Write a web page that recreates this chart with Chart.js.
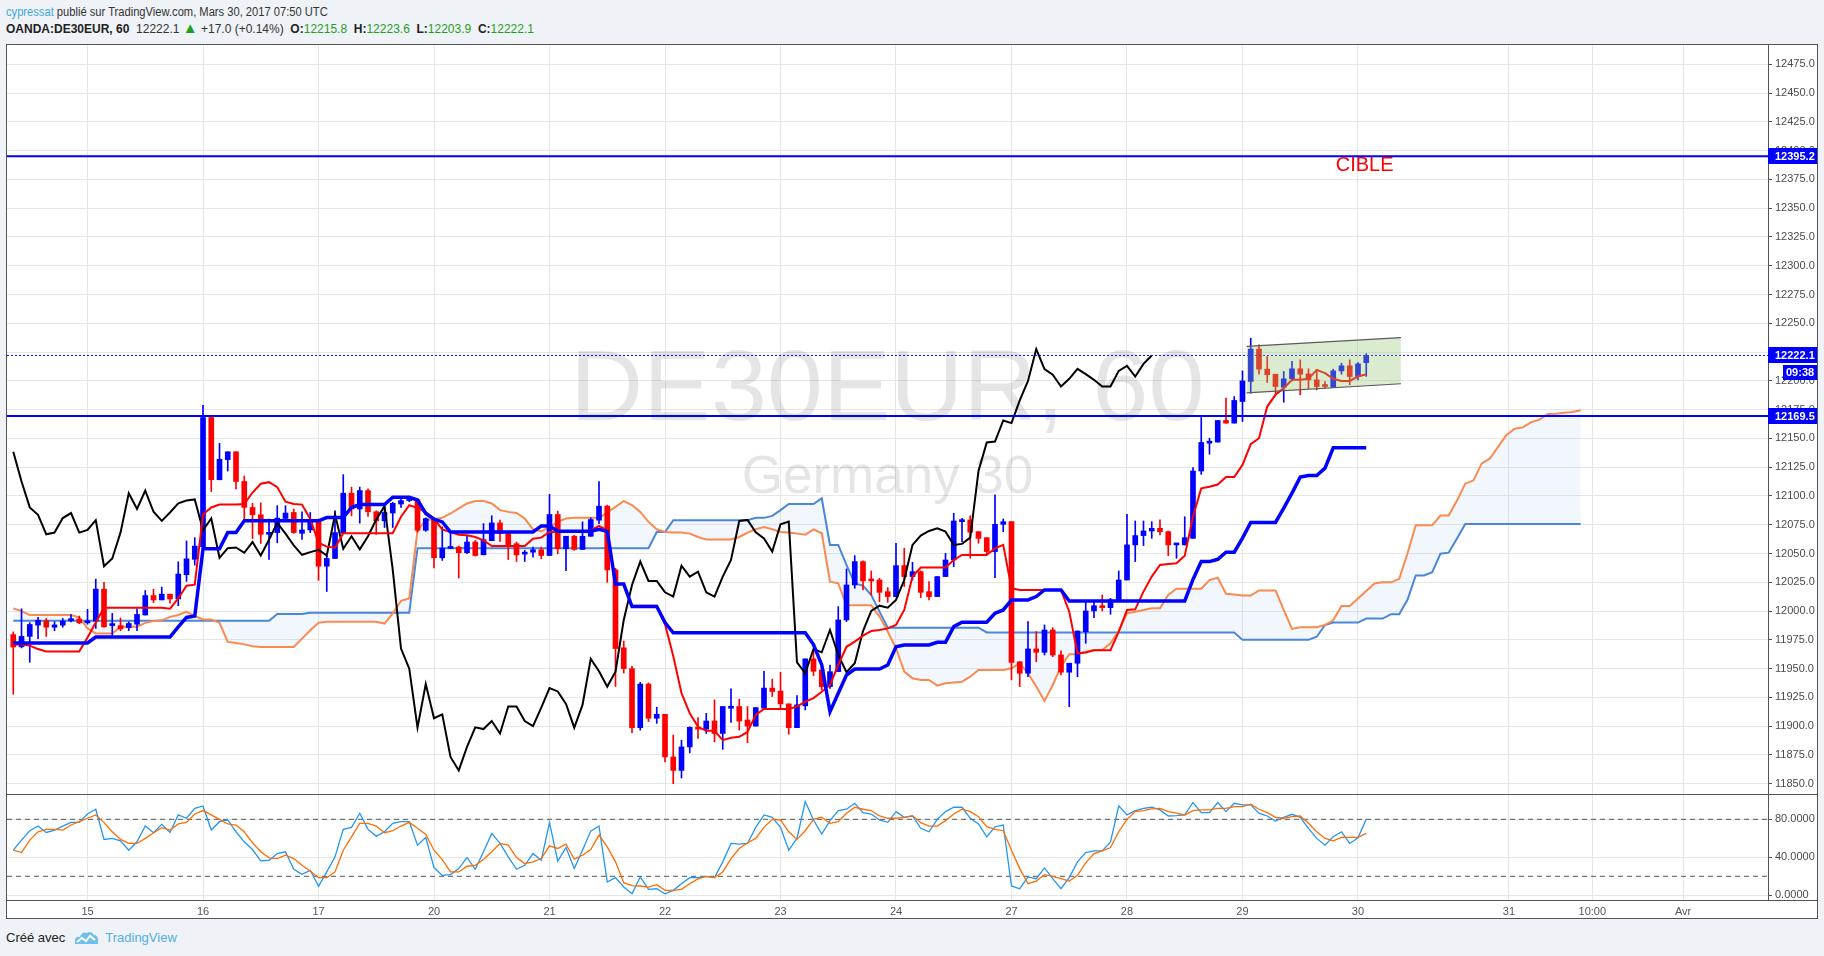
<!DOCTYPE html>
<html>
<head>
<meta charset="utf-8">
<title>DE30EUR, 60</title>
<script src="https://cdn.jsdelivr.net/npm/chart.js@4.4.1/dist/chart.umd.min.js"></script>
<style>
  html, body { margin: 0; padding: 0; }
  body { width: 1824px; height: 956px; background: #eff2f6; position: relative; overflow: hidden;
         font-family: "Liberation Sans", Arial, sans-serif; color: #333; }
  #line1 { position: absolute; left: 6px; top: 5px; font-size: 12px; white-space: nowrap;
           transform: scaleX(0.93); transform-origin: left top; }
  #line1 .user { color: #3ea9dd; }
  #line2 { position: absolute; left: 6px; top: 22px; font-size: 12px; white-space: nowrap; }
  #line2 b { color: #222; }
  #line2 .g { color: #1f9f1f; }
  #line2 .tri { color: #1f9f1f; font-size: 15px; line-height: 12px; }
  #frame { position: absolute; left: 6px; top: 44px; width: 1810px; height: 873px; border: 1px solid #555; background: #fff; }
  #frame canvas { position: absolute; left: 0; }
  .hsep { position: absolute; left: 0; width: 1810px; height: 1px; background: #555; }
  #foot { position: absolute; left: 6px; top: 929px; font-size: 13px; color: #222; display: flex; align-items: center; }
  #foot svg { margin-left: 9px; }
  #foot .tv { color: #4fb0e3; margin-left: 6px; }
</style>
</head>
<body>
<div id="line1"><span class="user">cypressat</span> publié sur TradingView.com, Mars 30, 2017 07:50 UTC</div>
<div id="line2"><b>OANDA:DE30EUR, 60</b>&nbsp; 12222.1 <span class="tri">▲</span> +17.0 (+0.14%)&nbsp; <b>O:</b><span class="g">12215.8</span>&nbsp; <b>H:</b><span class="g">12223.6</span>&nbsp; <b>L:</b><span class="g">12203.9</span>&nbsp; <b>C:</b><span class="g">12222.1</span></div>
<div id="frame">
  <canvas id="priceChart" width="1810" height="749" style="top:0"></canvas>
  <div class="hsep" style="top:749px"></div>
  <canvas id="stochChart" width="1810" height="123" style="top:750px"></canvas>
  <div class="hsep" style="top:855px"></div>
</div>
<div id="foot">Créé avec
  <svg width="25" height="17" viewBox="0 0 25 17"><path d="M1 15 L1 11 Q2 7 6 8 Q8 2 13 4 Q17 1 20 6 Q24 6 24 11 L24 15 Z" fill="#6cc0ea"/><path d="M3 13 L8 9 L12 12 L16 7 L21 11" stroke="#fff" stroke-width="2" fill="none"/></svg>
  <span class="tv">TradingView</span></div>

<script>
// bougies 60 min, index 0 = premiere bougie visible (14 bougies par jour)
const opens = [11979.6,11969,11978,11987.8,11991.6,11986,11987.8,11991.6,11993,11989.8,
  11991.3,12019.1,11987.4,11987.4,11985.7,11988.6,11996.6,12013.5,12009.7,12014.7,
  12010.6,12031.6,12045,12055.9,12168.2,12114.1,12131.6,12138.4,12112.6,12090,
  12083.7,12066.7,12068.2,12080.5,12085.7,12067.6,12070.5,12079.3,12039,12045.7,
  12067.6,12102.4,12088.7,12104.7,12086.3,12078.4,12085.2,12093,12096,12096.8,
  12070.2,12079.8,12046.3,12054.4,12055.6,12050.7,12060,12048.9,12061.2,12076.6,
  12067.3,12058.5,12049.5,12051.2,12053.3,12048.3,12083.9,12054.2,12065,12053.6,
  12065,12079,12091.2,12035.8,11968.1,11950,11898.7,11936.6,11906.9,11910.3,
  11873.3,11861.6,11882,11899,11897.5,11904.5,11893.7,11915.6,11917.1,11905.4,
  11900.1,11915.6,11933.1,11930.5,11919.4,11898.7,11917.7,11958.5,11948.9,11934.4,
  11947.4,11992.3,12022.7,12043,12027,12027,12016.9,12012.6,12039.5,12030,
  12034.3,12016.9,12012.6,12030,12044.4,12077.7,12079.2,12069,12063.8,12051.7,
  12075.4,12077.7,11956,11946,11967.1,11964.2,11983.6,11961.9,11946.9,11954.7,
  11982.1,12000.1,12004.7,12003,12009.7,12027,12057.5,12065.6,12069.6,12071.9,
  12069,12057.5,12057.5,12063.2,12121.7,12145.9,12146.8,12165.6,12163.3,12182.1,
  12199.5,12227.6,12210.2,12205.8,12194.5,12201.8,12210.5,12206.1,12200.9,12196,
  12194.5,12208.7,12213.1,12203.8,12215.8];
const highs = [11982,12002,11990,11994.5,11993.6,11990.7,11993.6,11997,11995.7,12001.5,
  12027.8,12025,11998,11994,11990.7,12002,12017.9,12019,12020.8,12014.7,
  12042.8,12060.9,12063.8,12178.7,12170,12145.7,12138.4,12138.4,12117.3,12093.6,
  12094,12079.9,12091.6,12091.6,12088.7,12086.3,12085.7,12079.9,12047.7,12087,
  12118.5,12107.7,12107.7,12106.2,12087.2,12091,12094.5,12097.4,12098,12097,
  12081,12079.8,12073.1,12067.3,12056.5,12065.8,12061.4,12076,12082.8,12079,
  12068.7,12060,12052.7,12055.6,12055.6,12101.4,12086.8,12065,12065.8,12077.5,
  12081,12112.5,12092.1,12037.2,11974,11952,11938.1,11937.5,11916.5,11910.3,
  11892.3,11887.9,11899.5,11907.4,11911.2,11922.9,11917.1,11932.4,11923.5,11917.1,
  11916.2,11947.7,11940.9,11946.8,11919.4,11926.7,11958.5,11966.7,11953.2,11953.2,
  12003.9,12036.6,12048.2,12043.6,12034.9,12028.5,12020.4,12058.9,12054.6,12042.4,
  12034.9,12025.6,12030,12050.2,12085,12080.6,12082.9,12069,12063.8,12100.9,
  12080,12077.7,11956,11990.9,11982.2,11988,11985.6,11965.4,11954.7,11982.7,
  12008.2,12007.6,12014,12011.1,12034.9,12084.1,12078.3,12078.3,12077.7,12079.2,
  12069.6,12058.9,12082,12124.6,12168.2,12150.2,12165.6,12185,12186.4,12208.7,
  12237.1,12231.3,12221.2,12205.8,12208.2,12216.9,12218.3,12210.5,12209.6,12199.5,
  12210.2,12215.4,12218.3,12216,12223.6];
const lows = [11927.8,11968,11955.6,11976,11978,11983,11986,11990.7,11989,11988.6,
  11985,11986,11979,11983,11983,11983,11996.6,12007.4,12009.7,12006.8,
  12004.7,12025.8,12040,12055.9,12103.9,12114.1,12121.7,12106.2,12077,12063,
  12058.8,12044.8,12059.4,12079.9,12067.6,12062.3,12068.2,12026.7,12017,12045.7,
  12067.6,12082.8,12076.4,12082.2,12066.7,12072.6,12072.6,12090,12095,12068.6,
  12069.3,12037.5,12044,12054.2,12028.8,12049.8,12047.8,12048.9,12061.2,12060.6,
  12044.8,12043.1,12043.1,12046.9,12045.4,12048.3,12049.8,12035.2,12052.7,12053.6,
  12065,12076,12025,11934.6,11946.2,11894.3,11896.6,11904,11902.5,11868.9,
  11850,11855,11876.8,11889.4,11893.7,11886.4,11879.9,11903.3,11896.6,11885.6,
  11900.1,11915,11925.8,11915.6,11893.1,11898.7,11914.1,11944,11931.5,11932.9,
  11947.4,11990.9,12019.8,12018.4,12014,12008.2,12007.6,12012.6,12021.3,12027,
  12011.7,12009.7,12012.6,12030,12038.6,12060.4,12045.9,12058.9,12049.4,12029.1,
  12069,11940.2,11934.4,11943,11956,11961.9,11960.4,11944.5,11917,11943,
  11972,11994.3,12000.1,11997.2,12009.7,12027,12043,12056.9,12063.2,12066.1,
  12048.2,12045.9,12057.5,12063.2,12118.8,12136.3,12146.8,12163.3,12163.3,12164.7,
  12189.3,12205.8,12198.6,12189.3,12181.5,12200,12187.9,12193.1,12192.2,12193.7,
  12194.5,12205.8,12196.6,12200.9,12203.9];
const closes = [11968.8,11978,11988.4,11992,11986,11988,11991.3,11993.4,11989.8,11991.3,
  12019.1,11986.3,11988.5,11984.6,11989.2,11997.1,12013.5,12009.7,12014.7,12010.6,
  12032.2,12045.4,12056.5,12168.2,12114.1,12131.9,12138.4,12112.6,12090.1,12083.7,
  12066.7,12068.2,12080.8,12085.2,12068.2,12070.5,12079,12039,12045.7,12068.2,
  12102.4,12088.7,12104.7,12086.3,12078.4,12085.7,12093.6,12096,12097,12070.2,
  12080.4,12046.3,12054.7,12055.3,12050.7,12060,12048.3,12062,12076.6,12067.3,
  12057.1,12048.9,12051.2,12053.3,12048.3,12083.9,12054.2,12065,12053.6,12065,
  12079.5,12091.2,12035.8,11967.5,11950,11898.7,11936.6,11906.9,11910.3,11873.3,
  11861.6,11882,11899,11897.5,11904.5,11893.7,11917.1,11917.1,11904.5,11900.1,
  11916.2,11933.1,11930.2,11919.4,11898.7,11918.5,11958.5,11947.7,11934.4,11947.4,
  11992.3,12022.7,12043,12026.2,12026.2,12016.3,12012.6,12039.5,12030,12034.3,
  12016.3,12012.6,12030,12044.4,12078.3,12079.2,12068.5,12063.2,12051.7,12075.4,
  12077.7,11955.5,11946,11967.1,11964.2,11983.6,11961.9,11946.9,11954.7,11982.7,
  12000.1,12004.7,12003,12009.7,12027,12057.5,12065.6,12069.6,12071.9,12069,
  12057.5,12058.4,12063.8,12121.7,12146.5,12147.3,12165.6,12163.3,12183,12200,
  12227.6,12210.2,12205.3,12195.1,12201.8,12210.5,12205.8,12200.9,12195.1,12195.1,
  12208.7,12213.1,12203.8,12214.8,12222.1];

// Ichimoku
const tenkan = [11971,11971,11970,11967,11965,11965,11965,11965,11965,11977,
  11990,12003,12003,12003,12003,12003,12003,12003,12003,12002,
  12011,12022,12023,12084,12090,12092.5,12092.5,12092.5,12093,12103,
  12110.6,12112,12107.7,12095,12093,12092.5,12080,12059.4,12056,12055,
  12067.6,12067.6,12067.6,12067.6,12067.6,12067.6,12067.6,12082,12092,12089.7,
  12086,12080.4,12071,12068.7,12066.4,12065.8,12064.4,12061.5,12056.5,12056.5,
  12056.5,12056.5,12056.5,12062.9,12063.8,12068.7,12068.7,12068.7,12068.7,12068.7,
  12070.2,12074,12070.2,12023.5,12023.5,12004.6,12004.6,12004.6,12004.6,11988.5,
  11961,11928.7,11911.2,11899.5,11896,11896,11887.9,11890,11890.8,11895,
  11909.8,11915,11915,11915,11915,11917,11921.4,11924.4,11930,11935.8,
  11953.2,11969,11973.5,11978.7,11982.7,11983.6,11985,11988,12001,12030,
  12037.8,12037.8,12037.8,12037.8,12044.4,12048.8,12048.8,12048.8,12048.8,12054.6,
  12057.5,12019.8,12018.4,12018.4,12018.4,12018.4,12018.4,12018.4,11999.5,11963.3,
  11964,11966,11966,11966,11982.1,12000.9,12001.5,12016.9,12030,12040.1,
  12041,12041.5,12048,12082,12106.7,12108,12110,12116.4,12116.4,12127,
  12145,12150.2,12177.7,12187.9,12193.7,12200.9,12200.9,12201.8,12209.6,12206.7,
  12201.8,12200,12200,12203.8,12205.8];
const kijun = [11972.3,11972.3,11972.3,11972.3,11972.3,11972.3,11972.3,11972.3,11972.3,11972.3,
  11977.5,11977.5,11977.5,11977.5,11977.5,11977.5,11977.5,11977.5,11977.5,11977.5,
  11986.3,11994.5,11995.7,12054.2,12054.2,12054.2,12068.2,12068.2,12078.4,12078.4,
  12078.4,12078.4,12078.4,12078.4,12078.4,12078.4,12078.4,12078.4,12081.3,12081.3,
  12081.3,12090,12092.5,12092.5,12092.5,12092.5,12098.9,12098.9,12098.9,12096.5,
  12084.8,12079.8,12077.5,12068.7,12068.7,12068.7,12068.7,12068.7,12068.7,12068.7,
  12068.7,12068.7,12068.7,12068.7,12074,12074,12069.3,12069.3,12069.3,12069.3,
  12069.3,12071,12069.3,12023.5,12023.5,12004,12004,12004,12004,11990,
  11981.2,11981.2,11981.2,11981.2,11981.2,11981.2,11981.2,11981.2,11981.2,11981.2,
  11981.2,11981.2,11981.2,11981.2,11981.2,11981.2,11981.2,11971,11953.2,11912.6,
  11928.6,11944.5,11949.7,11949.7,11949.7,11949.7,11953.2,11969.1,11970.6,11970.6,
  11970.6,11970.6,11972.9,11972.9,11986.5,11990.3,11990.3,11990.3,11990.3,11998.1,
  12001,12009.7,12009.7,12009.7,12012.6,12018.4,12018.4,12018.4,12008.8,12008.8,
  12008.8,12008.8,12008.8,12008.8,12008.8,12008.8,12008.8,12008.8,12008.8,12008.8,
  12008.8,12008.8,12008.8,12027.5,12043,12043,12045,12051.2,12051.2,12063.4,
  12077,12077,12077,12077,12089.4,12102.5,12116.4,12117.8,12117.8,12124.2,
  12141.8,12141.8,12141.8,12141.8,12141.8];
// nuage, deja decale de 26 bougies vers l'avant (index 0..190)
const senkouA = [12002.4,12000,11996.6,11996.6,11996.6,11996.6,11996.6,11996.6,11994.5,11984.9,
  11980.5,11980.5,11980.5,11986.3,11986.5,11986.5,11989.8,11991.3,11992,11995,
  11996.6,11999.5,11995.7,11992.8,11992.8,11989.8,11973.2,11972.3,11971.1,11969.5,
  11968.8,11968.8,11968.8,11968.8,11968.8,11976.1,11983.4,11989.8,11990.7,11990.7,
  11990.7,11990.7,11990.7,11990.7,11990.7,11989.2,11998,12008.9,12011,12070.2,
  12079,12079.8,12081,12084.8,12089.2,12093.5,12095.6,12095.6,12093.5,12087.7,
  12086.2,12085.3,12080.4,12071.1,12069.3,12073.1,12077.5,12080.4,12081,12081,
  12081,12081,12085.7,12090.6,12095.6,12092.1,12086.2,12077.5,12071.1,12068.7,
  12068.2,12068.2,12067.3,12064.4,12062.3,12062.3,12062.3,12062.3,12064.4,12068.2,
  12071.1,12073.1,12071.1,12068.7,12068.2,12067.3,12066.4,12071,12067.6,12025.6,
  12024.1,12005,12005,12005,12005,11995.2,11982.1,11967.7,11947.4,11941.6,
  11940.2,11940.2,11935.2,11937.3,11938,11938.7,11943,11948.9,11948.9,11948.9,
  11948.9,11950.3,11954.7,11946,11934.4,11921.9,11935.8,11951.8,11962.5,11962.5,
  11964.8,11966.2,11966.2,11972,11982.7,11998.1,11999.5,12001,12002.4,12002.4,
  12014,12019.5,12019.5,12019.5,12019.5,12027,12029,12015,12014.5,12013.5,
  12013.5,12018,12018,12018,12001,11984.5,11986,11986,11986,11988,
  11992,12004.5,12004.5,12011,12017.5,12024,12025,12025,12028,12050,
  12074.5,12074.5,12074.5,12083,12083,12096,12110.7,12113.6,12128.3,12132.6,
  12142.9,12153.1,12158.4,12159.6,12164.2,12166.3,12171.2,12171.5,12172.4,12173,
  12174.5];
const senkouB = [11991.6,11991.6,11991.6,11991.6,11991.6,11991.6,11991.6,11991.6,11991.6,11991.6,
  11991.6,11991.6,11991.6,11991.6,11991.6,11991.6,11991.6,11991.6,11991.6,11991.6,
  11991.6,11991.6,11991.6,11991.6,11991.6,11991.6,11991.6,11991.6,11991.6,11991.6,
  11991.6,11991.6,11997.4,11997.4,11997.4,11997.4,11998.6,11998.6,11998.6,11998.6,
  11998.6,11998.6,11998.6,11998.6,11998.6,11998.6,11998.6,11998.6,11998.6,12054.7,
  12054.7,12054.7,12054.7,12054.7,12054.7,12054.7,12054.7,12054.7,12054.7,12054.7,
  12054.7,12054.7,12054.7,12054.7,12054.7,12054.7,12054.7,12054.7,12054.7,12054.7,
  12054.7,12054.7,12054.7,12054.7,12054.7,12054.7,12054.7,12054.7,12068.7,12068.7,
  12079,12079,12079,12079,12079,12079,12079,12079,12079,12079,
  12081,12081,12082.7,12087.7,12093,12093,12093,12093,12098,12057.5,
  12057.5,12040.1,12024.1,12022.1,12014,11999.5,11985.6,11985.6,11985.6,11985.6,
  11985.6,11985.6,11985.6,11985.6,11985.6,11985.6,11985.6,11985.6,11981.5,11981.5,
  11981.5,11981.5,11981.5,11981.5,11981.5,11981.5,11981.5,11981.5,11981.5,11981.5,
  11981.5,11981.5,11981.5,11981.5,11981.5,11981.5,11981.5,11981.5,11981.5,11981.5,
  11981.5,11981.5,11981.5,11981.5,11981.5,11981.5,11981.5,11981.5,11981.5,11975,
  11975,11975,11975,11975,11975,11975,11975,11975,11977.7,11987.9,
  11990,11990,11990,11990,11993.5,11993.5,11993.5,11997.3,11997.3,12009.8,
  12030.9,12030.9,12033.8,12049.9,12050.8,12063,12075.6,12075.6,12075.6,12075.6,
  12075.6,12075.6,12075.6,12075.6,12075.6,12075.6,12075.6,12075.6,12075.6,12075.6,
  12075.6];
const chikouShift = 26;

// Stoch RSI
const stochK = [47.5,58.1,68,72.9,66.2,68.7,72.9,76.8,76.8,85.6,
  90.6,58.8,59.9,57.4,47.5,56.3,72.9,65.9,74.7,66.2,
  84.6,81.1,91.6,94.1,68.7,77.5,79.3,66.9,56.3,48.2,
  36.2,36.9,44,45.8,27.4,22.1,26.3,9.4,24.6,40.5,
  69.4,71.5,86.4,69.4,62.3,66.9,75.8,77.5,77.5,52.8,
  60.9,29.2,21,21.8,28.1,39.8,27.4,45.8,65.2,54.6,
  40.5,27.4,31.6,44,36.9,76.5,35.9,50.3,28.1,47.5,
  67.6,72.9,14,18.6,8.7,1.6,19.3,6.2,6.9,1.6,
  5.2,12.2,18.6,18.6,20,18.6,35.2,54.6,53.9,54.6,
  71.5,84.6,82.1,71.5,47.5,59.9,98.7,79.3,64.5,78.6,
  89.2,90.6,96.9,87.1,85.6,79.3,76.8,88.1,82.1,83.5,
  70.5,66.9,80,88.1,92.7,92.7,81.1,75.1,61.6,72.2,
  74,9.8,6.9,19.3,17.5,28.8,17.5,6.9,18.6,35.2,
  45,46.8,46.8,56.3,94.1,84.6,89.2,91.6,92.7,89.9,
  83.5,83.9,84.6,97.7,87.1,87.1,97.7,88.1,96.9,95.2,
  95.2,86.4,83.5,78.2,82.1,85.3,82.1,70.5,59.9,52.8,
  61.6,66.9,54.6,60.6,80];
const stochD = [47.5,45,58.1,66.9,69.4,69.4,68.7,74,77.5,81.1,
  84.6,76.5,66.9,58.8,54.6,54.6,59.9,65.9,71.2,68.7,
  75.1,76.8,85.6,89.2,84.6,80,75.1,74,66.9,55.3,
  45.8,39.4,38.7,42.2,38.7,31.6,25.3,18.6,18.6,24.6,
  47.5,61.6,75.8,75.8,72.9,65.9,68,72.9,76.8,70.5,
  64.1,47.5,37.6,24.6,24.6,30.6,31.6,37.6,45.8,54.6,
  52.8,39.8,33.4,35.2,38.7,52.1,49.3,53.9,38,42.2,
  48.2,63.4,51,35.2,13.3,10.1,9.8,8.7,11.2,5.2,
  5.2,6.2,12.2,17.2,20,18.6,24.6,38.7,49.3,55.3,
  59.9,71.5,80,79.3,66.9,58.8,68,80,82.1,75.8,
  77.5,86.4,92.7,90.6,89.2,83.5,81.1,81.1,82.1,83.9,
  76.5,72.9,72.9,78.6,85.6,90.6,88.1,82.8,72.2,69.4,
  68,47.5,28.1,12.2,15,21.8,20,17.5,15,21,
  34.1,44,46.8,50.3,66.9,80,88.1,89.2,90.9,91.6,
  88.1,86.4,84.6,89.2,89.9,89.9,91.6,91.6,93.4,93.4,
  95.9,90.6,87.1,82.1,81.1,82.8,83.5,75.8,66.9,59.9,
  57.4,60.9,60.9,60.9,65.2];

// axes
const dayTicks = [9, 23, 37, 51, 65, 79, 93, 107, 121, 135, 149, 163, 181.3, 191.4, 202.4];
const dayLabels = ['15', '16', '17', '20', '21', '22', '23', '24', '27', '28', '29', '30', '31', '10:00', 'Avr'];
const priceTicks = [11850, 11875, 11900, 11925, 11950, 11975, 12000, 12025, 12050, 12075, 12100, 12125, 12150,
  12175, 12200, 12225, 12250, 12275, 12300, 12325, 12350, 12375, 12400, 12425, 12450, 12475];
const stochTicks = [0, 40, 80];
const stochBands = [80, 20];

// dessins
const targetLevel = 12395.2;
const supportLevel = 12169.5;
const lastPrice = 12222.1;
const countdown = '09:38';
const targetText = 'CIBLE';
const targetTextAt = [160.3, 12387.5];
const channelX = [149.5, 168.2];
const channelTopY = [12230, 12237.5];
const channelBottomY = [12189.5, 12197.5];

const X_MIN = -0.76, X_MAX = 212.7;
const FONT = '"Liberation Sans", Arial, sans-serif';
const UP = '#0000ff', DOWN = '#ff0000';

const toPoints = arr => arr.map((v, i) => ({ x: i, y: v }));
const hline = v => [{ x: X_MIN, y: v }, { x: X_MAX, y: v }];
const candleColor = ctx => closes[ctx.dataIndex] >= opens[ctx.dataIndex] ? UP : DOWN;
const lineStyle = { pointRadius: 0, tension: 0, fill: false };

const watermark = {
  id: 'watermark',
  beforeDatasetsDraw(chart) {
    const { ctx, chartArea: a } = chart;
    const cx = (a.left + a.right) / 2, cy = (a.top + a.bottom) / 2;
    ctx.save();
    ctx.fillStyle = 'rgba(0,0,0,0.1)';
    ctx.textAlign = 'center';
    ctx.font = '101px ' + FONT;
    ctx.fillText('DE30EUR, 60', cx, cy);
    ctx.font = '53px ' + FONT;
    ctx.fillText('Germany 30', cx, cy + 73);
    ctx.restore();
  }
};

const priceTags = {
  id: 'priceTags',
  afterDraw(chart) {
    const { ctx, chartArea: a, scales: { x, y } } = chart;
    ctx.save();
    ctx.font = 'bold 11px ' + FONT;
    ctx.textBaseline = 'middle';
    const tag = (value) => {
      const py = Math.round(y.getPixelForValue(value));
      ctx.fillStyle = '#0000ff';
      ctx.fillRect(a.right, py - 8, chart.width - a.right, 16);
      ctx.fillStyle = '#fff';
      ctx.fillText(value.toFixed(1), a.right + 7, py + 1);
      return py;
    };
    tag(targetLevel);
    tag(supportLevel);
    const py = tag(lastPrice);
    ctx.fillStyle = '#0000ff';
    ctx.fillRect(a.right + 15, py + 10, chart.width - a.right - 15, 15);
    ctx.fillStyle = '#fff';
    ctx.fillText(countdown, a.right + 18, py + 18);

    ctx.fillStyle = '#ff0000';
    ctx.font = '20px ' + FONT;
    ctx.fillText(targetText, x.getPixelForValue(targetTextAt[0]), y.getPixelForValue(targetTextAt[1]));
    ctx.restore();
  }
};

function rightAxis(width) {
  return s => { s.width = width; s.paddingTop = 0; s.paddingBottom = 0; };
}

new Chart(document.getElementById('priceChart'), {
  type: 'line',
  data: {
    datasets: [
      { data: channelX.map((v, i) => ({ x: v, y: channelTopY[i] })), borderColor: '#5a5a5a', borderWidth: 1.2, ...lineStyle, order: 0 },
      { data: channelX.map((v, i) => ({ x: v, y: channelBottomY[i] })), borderColor: '#5a5a5a', borderWidth: 1.2, ...lineStyle,
        fill: '-1', backgroundColor: 'rgba(150,198,120,0.35)', order: 0 },
      { data: hline(targetLevel), borderColor: '#0000ff', borderWidth: 2, ...lineStyle, order: 1 },
      { data: hline(supportLevel), borderColor: '#0000ff', borderWidth: 2, ...lineStyle, order: 1 },
      { data: hline(lastPrice), borderColor: '#0000ff', borderWidth: 1, borderDash: [2, 2], ...lineStyle, order: 1 },
      { data: toPoints(kijun), borderColor: '#0000ff', borderWidth: 3.5, ...lineStyle, order: 2 },
      { data: toPoints(tenkan), borderColor: '#ff0000', borderWidth: 2, ...lineStyle, order: 3 },
      { data: toPoints(closes.slice(chikouShift)), borderColor: '#000000', borderWidth: 2, ...lineStyle, order: 3 },
      { type: 'bar', data: opens.map((o, i) => ({ x: i, y: [o, closes[i]] })), backgroundColor: candleColor,
        barThickness: 5, minBarLength: 2, grouped: false, borderWidth: 0, order: 4 },
      { type: 'bar', data: lows.map((l, i) => ({ x: i, y: [l, highs[i]] })), backgroundColor: candleColor,
        barThickness: 1, grouped: false, borderWidth: 0, order: 5 },
      { data: toPoints(senkouA), borderColor: '#fa8a4e', borderWidth: 2, ...lineStyle, order: 6 },
      { data: toPoints(senkouB), borderColor: '#4a86dc', borderWidth: 2, ...lineStyle, order: 6,
        fill: { target: '-1', above: 'rgba(90,140,235,0.08)', below: 'rgba(90,140,235,0.08)' } }
    ]
  },
  options: {
    responsive: false, animation: false, events: [],
    layout: { padding: 0, autoPadding: false },
    plugins: { legend: { display: false }, tooltip: { enabled: false } },
    scales: {
      x: {
        type: 'linear', min: X_MIN, max: X_MAX, bounds: 'data', offset: false,
        afterBuildTicks: s => { s.ticks = dayTicks.map(v => ({ value: v })); },
        afterFit: s => { s.height = 0; },
        ticks: { display: false },
        grid: { color: '#e6e6e6', drawTicks: false, offset: false },
        border: { display: false }
      },
      y: {
        position: 'right', min: 11841.1, max: 12491.8, bounds: 'data',
        afterBuildTicks: s => { s.ticks = priceTicks.map(v => ({ value: v })); },
        afterFit: rightAxis(49),
        ticks: { callback: v => v.toFixed(1), color: '#4a4a4a', font: { size: 11, family: FONT }, padding: 3 },
        grid: { color: '#e6e6e6', tickLength: 4, tickColor: '#555' },
        border: { color: '#555' }
      }
    }
  },
  plugins: [watermark, priceTags]
});

new Chart(document.getElementById('stochChart'), {
  type: 'line',
  data: {
    datasets: [
      { data: toPoints(stochD), borderColor: '#ff6d00', borderWidth: 1.3, ...lineStyle, order: 0 },
      { data: toPoints(stochK), borderColor: '#2196f3', borderWidth: 1.3, ...lineStyle, order: 1 },
      { data: hline(stochBands[0]), borderColor: '#555', borderWidth: 1, borderDash: [5, 4], ...lineStyle, order: 2 },
      { data: hline(stochBands[1]), borderColor: '#555', borderWidth: 1, borderDash: [5, 4], ...lineStyle, order: 2 }
    ]
  },
  options: {
    responsive: false, animation: false, events: [],
    layout: { padding: 0, autoPadding: false },
    plugins: { legend: { display: false }, tooltip: { enabled: false } },
    scales: {
      x: {
        type: 'linear', min: X_MIN, max: X_MAX, bounds: 'data', offset: false,
        afterBuildTicks: s => { s.ticks = dayTicks.map(v => ({ value: v })); },
        afterFit: s => { s.height = 18; s.paddingLeft = 0; s.paddingRight = 0; },
        ticks: { callback: (v, i) => dayLabels[i], color: '#555', font: { size: 11, family: FONT },
                 padding: 5, maxRotation: 0, autoSkip: false },
        grid: { color: '#e6e6e6', drawTicks: false, offset: false },
        border: { display: false }
      },
      y: {
        position: 'right', min: -4.95, max: 105.6, bounds: 'data',
        afterBuildTicks: s => { s.ticks = stochTicks.map(v => ({ value: v })); },
        afterFit: rightAxis(49),
        ticks: { callback: v => v.toFixed(4), color: '#4a4a4a', font: { size: 11, family: FONT }, padding: 3 },
        grid: { color: '#e6e6e6', tickLength: 4, tickColor: '#555' },
        border: { color: '#555' }
      }
    }
  }
});
</script>
</body>
</html>
